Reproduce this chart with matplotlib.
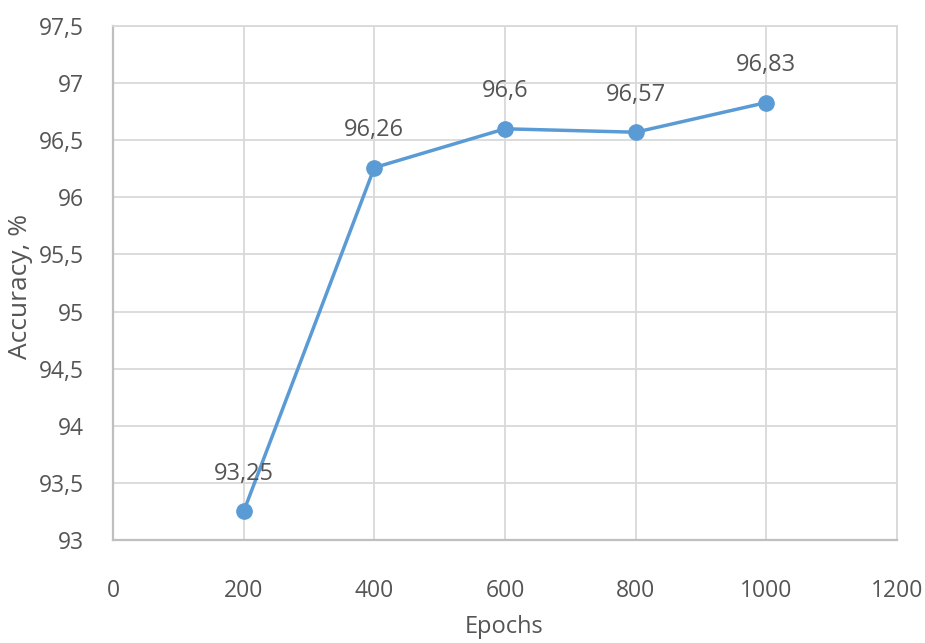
import matplotlib
matplotlib.use("Agg")
import matplotlib.pyplot as plt
from matplotlib.ticker import FuncFormatter, MultipleLocator

epochs = [200, 400, 600, 800, 1000]
accuracy = [93.25, 96.26, 96.6, 96.57, 96.83]
point_labels = ["93,25", "96,26", "96,6", "96,57", "96,83"]
x_label = "Epochs"
y_label = "Accuracy, %"

plt.rcParams['font.family'] = ['Open Sans', 'DejaVu Sans']
text_color = "#555555"
grid_color = "#D9D9D9"
line_color = "#5B9BD5"

fig = plt.figure(figsize=(9.25, 6.43), dpi=100)
ax = fig.add_axes([113/925, (643-540)/643, 784/925, 514/643])

ax.plot(epochs, accuracy, color=line_color, lw=2.5, marker='o', markersize=11,
        solid_capstyle='round', zorder=3)
for x, y, lab in zip(epochs, accuracy, point_labels):
    ax.annotate(lab, (x, y), xytext=(0, 27), textcoords='offset points',
                ha='center', va='center', fontsize=17, color=text_color)

ax.set_xlim(0, 1200)
ax.set_ylim(93, 97.5)
ax.xaxis.set_major_locator(MultipleLocator(200))
ax.yaxis.set_major_locator(MultipleLocator(0.5))

def fmt(v, pos):
    s = ("%.1f" % v).rstrip('0').rstrip('.')
    return s.replace('.', ',')

ax.xaxis.set_major_formatter(FuncFormatter(fmt))
ax.yaxis.set_major_formatter(FuncFormatter(fmt))

ax.grid(True, color=grid_color, lw=1.3)
ax.set_axisbelow(True)
for side in ['top', 'right']:
    ax.spines[side].set_color(grid_color)
    ax.spines[side].set_linewidth(1.3)
for side in ['left', 'bottom']:
    ax.spines[side].set_color("#BFBFBF")
    ax.spines[side].set_linewidth(1.6)

ax.tick_params(axis='both', length=0, labelsize=16.5, labelcolor=text_color)
ax.tick_params(axis='y', pad=21)
ax.tick_params(axis='x', pad=28)

fig.text(504/925, 1 - 627/643, x_label, ha='center', va='center',
         fontsize=17, color=text_color)
fig.text(21/925, 1 - 286/643, y_label, ha='center', va='center',
         rotation=90, fontsize=19, color=text_color)

fig.savefig("out.png", dpi=100)
